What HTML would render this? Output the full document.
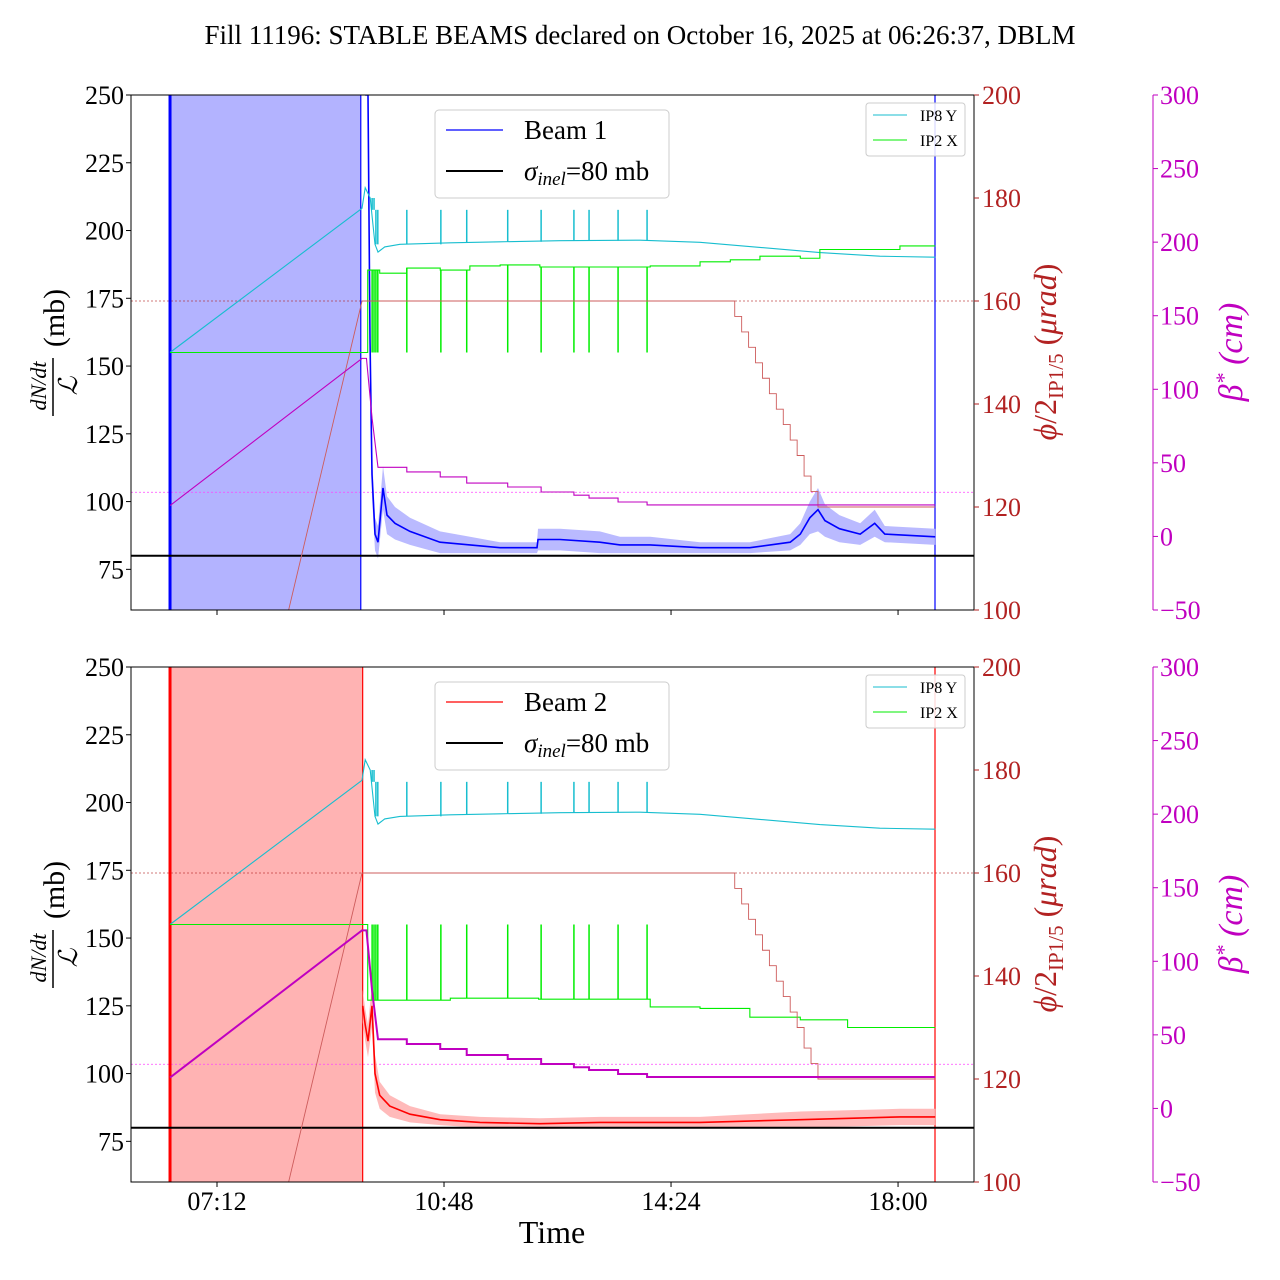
<!DOCTYPE html>
<html><head><meta charset="utf-8"><style>
html,body{margin:0;padding:0;background:#fff;}
svg{display:block;font-family:"Liberation Serif","DejaVu Serif",serif;}
</style></head><body>
<svg id="chart" width="1280" height="1280" viewBox="0 0 1280 1280" xmlns="http://www.w3.org/2000/svg">
<text x="640" y="44" text-anchor="middle" font-size="27">Fill 11196: STABLE BEAMS declared on October 16, 2025 at 06:26:37, DBLM</text>
</svg>
<script>
// ---- data (time in hours of day) ----
const xTickLabels = ["07:12","10:48","14:24","18:00"];
const xTickHours = [7.2, 10.8, 14.4, 18.0];
const leftTicks = [75,100,125,150,175,200,225,250];
const rightTicks = [100,120,140,160,180,200];
const betaTicks = [-50,0,50,100,150,200,250,300];
const shadeStart = 6.455;
const shadeEnd1 = 9.48;
const shadeEnd2 = 9.51;
const beamEnd = 18.586;
const sigmaInel = 80;

const b1Times = [9.55,9.594,9.626,9.658,9.705,9.753,9.832,9.896,10.023,10.26,10.736,11.212,11.688,12.275,12.29,12.64,13.27,13.59,14.07,14.86,15.65,16.29,16.45,16.6,16.73,16.84,17.07,17.4,17.63,17.79,18.59];
const b1Values = [250,250,160,110,88,85,105,95,92,89,85,84,83,83,86,86,85,84,84,83,83,85,88,94,97,93,90,88,92,88,87];
const b1Half = [0,0,10,8,6,6,8,7,6,5,4,3,2,2,4,4,4,3,3,2,2,3,4,6,8,6,5,4,5,3,3];

const b2Times = [9.51,9.55,9.594,9.658,9.705,9.78,9.94,10.26,10.74,11.37,12.32,13.27,14.86,16.45,18.03,18.59];
const b2Values = [125,118,112,125,100,92,88,85,83,82,81.5,82,82,83,84,84];
const b2Half = [6,6,6,8,7,5,4,3,2,2,2,2,2,3,3,3];

const cyanTimes = [6.455,9.5,9.55,9.63,9.705,9.753,9.86,10.1,10.9,11.69,12.64,13.91,14.86,15.81,16.76,17.71,18.59];
const cyanValues = [150,178,182,180,171,169.5,170.5,171,171.3,171.5,171.7,171.8,171.4,170.4,169.4,168.7,168.5];
const spikeTimes = [9.66,9.69,9.72,9.75,10.21,10.75,11.16,11.81,12.34,12.86,13.1,13.56,14.02];
const cyanSpikeTop = 177.7;

const green1Times = [6.455,9.59,9.78,10.21,10.74,11.21,11.69,12.32,14.07,14.86,15.34,15.81,16.45,16.76,17.71,18.03,18.59];
const green1Values = [150,166,165.4,166.4,166,166.8,167,166.6,166.8,167.6,168,168.7,168.3,170,170,170.7,170.7];
const green2Times = [6.455,9.59,9.78,10.9,12.3,14.07,14.86,15.65,16.45,17.2,18.59];
const green2Values = [150,135.3,135.3,135.7,135.5,134,133.7,132,131.5,130,130];
const greenSpikeLevel = 150;

const phiTimes = [8.2,9.5,15.3,15.41,15.52,15.63,15.74,15.85,15.96,16.07,16.18,16.29,16.4,16.51,16.62,16.73,18.59];
const phiValues = [93,160,160,157,154,151,148,145,142,139,136,133,130,126,123,120,120];
const phiRef = 160;

const betaTimes = [6.455,9.5,9.57,9.66,9.753,10.21,10.74,11.16,11.81,12.34,12.86,13.1,13.56,14.02,18.59];
const betaValues = [21,121,121,80,47,43.8,40.4,36.3,33.6,30.2,28,26.1,23.4,21.4,21.4];
const betaRef = 30;

// ---- drawing ----
const NS = "http://www.w3.org/2000/svg";
const svg = document.getElementById("chart");
const X0 = 131, X1 = 974, H = 515;
function xs(h){ return 217 + (h - 7.2) * 63.06; }
function mk(tag, attrs, parent){
  const e = document.createElementNS(NS, tag);
  for (const k in attrs) e.setAttribute(k, attrs[k]);
  (parent || svg).appendChild(e);
  return e;
}
function stepPath(ts, vs, fy){
  let d = "";
  for (let i = 0; i < ts.length; i++){
    if (i === 0) d += "M" + xs(ts[0]) + "," + fy(vs[0]);
    else d += "H" + xs(ts[i]) + "V" + fy(vs[i]);
  }
  return d;
}
function linePath(ts, vs, fy){
  return ts.map((t,i)=> (i?"L":"M") + xs(t).toFixed(1) + "," + fy(vs[i]).toFixed(1)).join("");
}

function panel(y0, idx){
  const beam = idx === 1 ? 1 : 2;
  const col = beam === 1 ? "#0000ff" : "#ff0000";
  const shadeCol = beam === 1 ? "#b3b3ff" : "#ffb3b3";
  const yL = v => y0 + (250 - v) / 190 * H;
  const yR = v => y0 + (200 - v) / 100 * H;
  const yB = v => y0 + (300 - v) / 350 * H;
  const g = mk("g", {});
  
  
  const cid = "clip" + beam;
  const cp = mk("clipPath", {id: cid}, g);
  mk("rect", {x: X0, y: y0, width: X1 - X0, height: H}, cp);
  const plot = mk("g", {"clip-path": "url(#" + cid + ")"}, g);
  
  

  const shEnd = beam === 1 ? shadeEnd1 : shadeEnd2;
  const sh = mk("rect", {x: xs(shadeStart), y: y0, width: xs(shEnd) - xs(shadeStart), height: H, fill: shadeCol}, plot);
  
  

  const r1 = mk("line", {x1: X0, x2: X1, y1: yR(phiRef), y2: yR(phiRef), stroke: "#b22222", "stroke-width": 0.8, "stroke-dasharray": "2,2", opacity: 0.8}, plot);
  
  
  const r2 = mk("line", {x1: X0, x2: X1, y1: yB(betaRef), y2: yB(betaRef), stroke: "#ff44ff", "stroke-width": 0.8, "stroke-dasharray": "2,2"}, plot);
  
  

  [[shadeStart,3],[shEnd,1.2],[beamEnd,1.2]].forEach(([t,w])=>{
    const l = mk("line", {x1: xs(t), x2: xs(t), y1: y0, y2: y0 + H, stroke: col, "stroke-width": w}, plot);
    
    
  });

  const ts = beam === 1 ? b1Times : b2Times, vs = beam === 1 ? b1Values : b2Values, hw = beam === 1 ? b1Half : b2Half;
  let bd = ts.map((t,i)=>(i?"L":"M")+xs(t).toFixed(1)+","+yL(vs[i]+hw[i]).toFixed(1)).join("");
  for (let i = ts.length - 1; i >= 0; i--) bd += "L" + xs(ts[i]).toFixed(1) + "," + yL(vs[i]-hw[i]).toFixed(1);
  const band = mk("path", {d: bd + "Z", fill: shadeCol, stroke: "none", opacity: 0.9}, plot);
  
  
  const bl = mk("path", {d: linePath(ts, vs, yL), fill: "none", stroke: col, "stroke-width": 1.6}, plot);
  
  

  const sl = mk("line", {x1: X0, x2: X1, y1: yL(sigmaInel), y2: yL(sigmaInel), stroke: "#000", "stroke-width": 2}, plot);
  
  

  const cy = mk("path", {d: linePath(cyanTimes, cyanValues, yR), fill: "none", stroke: "#17becf", "stroke-width": 1.1}, plot);
  
  
  spikeTimes.forEach(t=>{
    const base = cyanValues[Math.max(0, cyanTimes.findIndex(c=>c>t)-1)];
    const s = mk("line", {x1: xs(t), x2: xs(t), y1: yR(base), y2: yR(cyanSpikeTop), stroke: "#17becf", "stroke-width": 1.5}, plot);
    
    
  });
  const gt = beam === 1 ? green1Times : green2Times, gv = beam === 1 ? green1Values : green2Values;
  const gr = mk("path", {d: stepPath(gt, gv, yR), fill: "none", stroke: "#00ee00", "stroke-width": 1.1}, plot);
  
  
  spikeTimes.forEach(t=>{
    let k = 0; for (let i=0;i<gt.length;i++) if (gt[i] <= t) k = i;
    const s = mk("line", {x1: xs(t), x2: xs(t), y1: yR(gv[k]), y2: yR(greenSpikeLevel), stroke: "#00ee00", "stroke-width": 1.5}, plot);
    
    
  });

  let pd = "M" + xs(phiTimes[0]) + "," + yR(phiValues[0]) + "L" + xs(phiTimes[1]) + "," + yR(phiValues[1]);
  for (let i = 2; i < phiTimes.length; i++) pd += "H" + xs(phiTimes[i]) + "V" + yR(phiValues[i]);
  const ph = mk("path", {d: pd, fill: "none", stroke: "#cd5c5c", "stroke-width": 0.9}, plot);
  
  

  let md = "M" + xs(betaTimes[0]) + "," + yB(betaValues[0]);
  for (let i = 1; i < 5; i++) md += "L" + xs(betaTimes[i]) + "," + yB(betaValues[i]);
  for (let i = 5; i < betaTimes.length; i++) md += "H" + xs(betaTimes[i]) + "V" + yB(betaValues[i]);
  const be = mk("path", {d: md, fill: "none", stroke: "#c000c0", "stroke-width": beam === 1 ? 1.1 : 2}, plot);
  
  

  const fr = mk("rect", {x: X0, y: y0, width: X1 - X0, height: H, fill: "none", stroke: "#000", "stroke-width": 1}, g);
  
  

  leftTicks.forEach(v=>{
    const y = yL(v);
    const tk = mk("line", {x1: X0 - 5, x2: X0, y1: y, y2: y, stroke: "#000"}, g);
    
    
    const tx = mk("text", {x: X0 - 7, y: y + 9, "text-anchor": "end", "font-size": 26}, g);
    
    
    tx.textContent = v;
  });
  rightTicks.forEach(v=>{
    const y = yR(v);
    const tk = mk("line", {x1: X1, x2: X1 + 5, y1: y, y2: y, stroke: "#b22222"}, g);
    
    
    const tx = mk("text", {x: X1 + 8, y: y + 9, "font-size": 26, fill: "#b22222"}, g);
    
    
    tx.textContent = v;
  });
  const bs = mk("line", {x1: 1153, x2: 1153, y1: y0, y2: y0 + H, stroke: "#c000c0"}, g);
  
  
  betaTicks.forEach(v=>{
    const y = yB(v);
    const tk = mk("line", {x1: 1153, x2: 1158, y1: y, y2: y, stroke: "#c000c0"}, g);
    
    
    const tx = mk("text", {x: 1160, y: y + 9, "font-size": 26, fill: "#c000c0"}, g);
    
    
    tx.textContent = v < 0 ? "\u2212" + (-v) : v;
  });
  xTickHours.forEach((h,i)=>{
    const tk = mk("line", {x1: xs(h), x2: xs(h), y1: y0 + H, y2: y0 + H + 5, stroke: "#000"}, g);
    
    
    if (beam === 2){
      const tx = mk("text", {x: xs(h), y: y0 + H + 28, "text-anchor": "middle", "font-size": 26}, g);
      
      
      tx.textContent = xTickLabels[i];
    }
  });

  const ll = mk("g", {transform: "translate(53," + (y0 + 257) + ") rotate(-90)"}, g);
  
  
  const num = mk("text", {x: -34, y: -7, "text-anchor": "middle", "font-size": 22, "font-style": "italic"}, ll);
  num.textContent = "dN/dt";
  mk("line", {x1: -64, x2: -6, y1: 0, y2: 0, stroke: "#000", "stroke-width": 1.5}, ll);
  const den = mk("text", {x: -34, y: 24, "text-anchor": "middle", "font-size": 26, "font-style": "italic"}, ll);
  den.textContent = "\u2112";
  const mb = mk("text", {x: 34, y: 11, "text-anchor": "middle", "font-size": 30}, ll);
  mb.textContent = "(mb)";

  const rl = mk("text", {transform: "translate(1056," + (y0 + 257) + ") rotate(-90)", "text-anchor": "middle", "font-size": 32, fill: "#b22222"}, g);
  
  
  rl.innerHTML = '<tspan font-style="italic">\u03d5</tspan>/2<tspan font-size="21" dy="7">IP1/5</tspan><tspan dy="-7"> (</tspan><tspan font-style="italic">\u03bcrad</tspan>)';
  const ml = mk("text", {transform: "translate(1242," + (y0 + 257) + ") rotate(-90)", "text-anchor": "middle", "font-size": 34, fill: "#c000c0", "font-style": "italic"}, g);
  
  
  ml.innerHTML = '\u03b2<tspan font-size="22" dy="-11">*</tspan><tspan dy="11"> (cm)</tspan>';

  const lg = mk("g", {}, g);
  
  
  mk("rect", {x: 435, y: y0 + 15, width: 234, height: 88, rx: 4, fill: "#fff", "fill-opacity": 0.85, stroke: "#ccc"}, lg);
  mk("line", {x1: 446, x2: 503, y1: y0 + 35, y2: y0 + 35, stroke: col, "stroke-width": 1.2}, lg);
  const t1 = mk("text", {x: 524, y: y0 + 44, "font-size": 27}, lg);
  t1.textContent = "Beam " + beam;
  mk("line", {x1: 446, x2: 503, y1: y0 + 76, y2: y0 + 76, stroke: "#000", "stroke-width": 2}, lg);
  const t2 = mk("text", {x: 524, y: y0 + 85, "font-size": 27}, lg);
  t2.innerHTML = '<tspan font-style="italic">\u03c3</tspan><tspan font-style="italic" font-size="19" dy="5">inel</tspan><tspan dy="-5">=80 mb</tspan>';
  const sg = mk("g", {}, g);
  
  
  mk("rect", {x: 866, y: y0 + 8, width: 99, height: 53, rx: 3, fill: "#fff", "fill-opacity": 0.85, stroke: "#ccc"}, sg);
  mk("line", {x1: 873, x2: 907, y1: y0 + 20, y2: y0 + 20, stroke: "#17becf", "stroke-width": 1.1}, sg);
  const s1 = mk("text", {x: 920, y: y0 + 26, "font-size": 16}, sg); s1.textContent = "IP8 Y";
  mk("line", {x1: 873, x2: 907, y1: y0 + 45, y2: y0 + 45, stroke: "#00ee00", "stroke-width": 1.1}, sg);
  const s2 = mk("text", {x: 920, y: y0 + 51, "font-size": 16}, sg); s2.textContent = "IP2 X";
}
panel(95, 1);
panel(667, 2);
const xt = mk("text", {x: 552, y: 1243, "text-anchor": "middle", "font-size": 32});


xt.textContent = "Time";
</script>
</body></html>
